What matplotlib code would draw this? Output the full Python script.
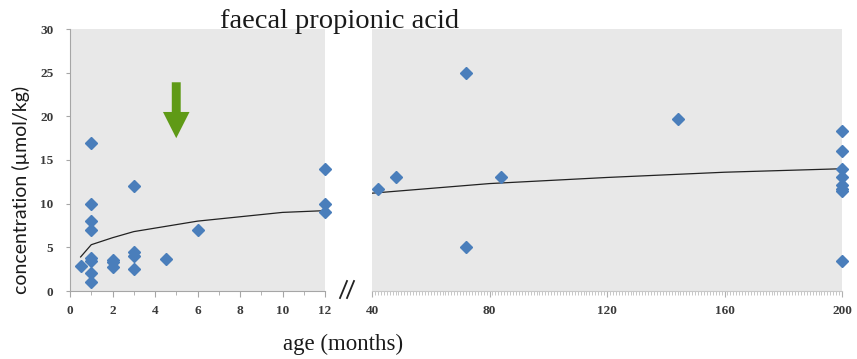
import matplotlib
matplotlib.use("Agg")
import matplotlib.pyplot as plt
from matplotlib.lines import Line2D
from matplotlib.patches import FancyArrow
from matplotlib.ticker import MultipleLocator

# Infant measurements (age in months, concentration in umol/kg)
infant_age = [0.5, 1, 1, 1, 1, 1, 1, 1, 1, 2, 2, 2, 3, 3, 3, 3, 4.5, 6, 12, 12, 12]
infant_conc = [2.9, 17.0, 10.0, 8.0, 7.0, 3.8, 3.4, 2.1, 1.0, 3.6, 3.3, 2.8,
               12.0, 4.5, 4.0, 2.5, 3.7, 7.0, 14.0, 10.0, 9.0]

# Older children / adults
older_age = [42, 48, 72, 72, 84, 144, 200, 200, 200, 200, 200, 200, 200, 200]
older_conc = [11.7, 13.0, 25.0, 5.0, 13.0, 19.7, 18.3, 16.0, 14.0, 13.1, 12.1, 11.7, 11.4, 3.4]

# Trend lines
infant_trend_age = [0.5, 1, 2, 3, 4.5, 6, 8, 10, 12]
infant_trend_conc = [3.9, 5.3, 6.1, 6.8, 7.4, 8.0, 8.5, 9.0, 9.2]
older_trend_age = [40, 80, 120, 160, 200]
older_trend_conc = [11.2, 12.3, 13.0, 13.6, 14.0]

left_xticks = [0, 2, 4, 6, 8, 10, 12]
right_xticks = [40, 80, 120, 160, 200]
yticks = [0, 5, 10, 15, 20, 25, 30]

W, H = 857, 359
fig = plt.figure(figsize=(W / 100, H / 100), dpi=100)

bg = "#e8e8e8"
blue = "#4a7ebb"
spine_c = "#a6a6a6"
tick_font = dict(family="Liberation Serif", size=9.5, weight="bold", color="#3a3a3a")
serif = "Liberation Serif"

def px_axes(x0, x1, y0, y1):
    return fig.add_axes([x0 / W, 1 - y1 / H, (x1 - x0) / W, (y1 - y0) / H])

axL = px_axes(70, 325, 29, 291)
axR = px_axes(372, 842, 29, 291)

for ax in (axL, axR):
    ax.set_facecolor(bg)
    ax.set_ylim(0, 30)
    for s in ("top", "right"):
        ax.spines[s].set_visible(False)
    ax.spines["bottom"].set_color(spine_c)
    ax.spines["left"].set_color(spine_c)
    ax.tick_params(axis="both", which="both", color=spine_c, direction="out")

# Left panel: infants
axL.set_xlim(0, 12)
axL.set_xticks(left_xticks)
axL.xaxis.set_minor_locator(MultipleLocator(1))
axL.set_yticks(yticks)
axL.tick_params(axis="x", which="major", length=4, pad=6)
axL.tick_params(axis="x", which="minor", length=3)
axL.tick_params(axis="y", length=3, pad=9)
axL.set_xticklabels([str(t) for t in left_xticks], fontdict=tick_font)
axL.set_yticklabels([str(t) for t in yticks], fontdict=tick_font)
axL.plot(infant_trend_age, infant_trend_conc, color="#222222", lw=0.9, zorder=2)
axL.plot(infant_age, infant_conc, ls="none", marker="D", ms=6.3,
         color=blue, mec=blue, zorder=3, clip_on=False)
axL.add_patch(FancyArrow(5, 23.9, 0, -6.4, width=0.42, head_width=1.25,
                         head_length=3.0, length_includes_head=True,
                         color="#5f9a16", lw=0, zorder=4))

# Right panel: older subjects
axR.set_xlim(40, 200)
axR.set_xticks(right_xticks)
axR.xaxis.set_minor_locator(MultipleLocator(1))
axR.set_yticks([])
axR.spines["left"].set_visible(False)
axR.spines["bottom"].set_color("#c8c8c8")
axR.tick_params(axis="x", which="major", length=4, pad=6, color="#b0b0b0")
axR.tick_params(axis="x", which="minor", length=3, width=0.5, color="#b0b0b0")
axR.set_xticklabels([str(t) for t in right_xticks], fontdict=tick_font)
axR.plot(older_trend_age, older_trend_conc, color="#222222", lw=0.9, zorder=2)
axR.plot(older_age, older_conc, ls="none", marker="D", ms=6.3,
         color=blue, mec=blue, zorder=3, clip_on=False)

# Axis break marks
for dx in (0, 7):
    fig.add_artist(Line2D([(340 + dx) / W, (347 + dx) / W],
                          [1 - 298 / H, 1 - 281 / H],
                          color="#222222", lw=1.3))

fig.text(340 / W, 1 - 28 / H, "faecal propionic acid", family=serif, size=20.5,
         ha="center", va="baseline", color="#1a1a1a")
fig.text(343 / W, 1 - 350 / H, "age (months)", family=serif, size=16.5,
         ha="center", va="baseline", color="#1a1a1a")
fig.text(21 / W, 1 - 190 / H, "concentration (\u00b5mol/kg)", family="Lato",
         size=14, rotation=90, ha="center", va="center", color="#1a1a1a")

fig.savefig("out.png", dpi=100)
